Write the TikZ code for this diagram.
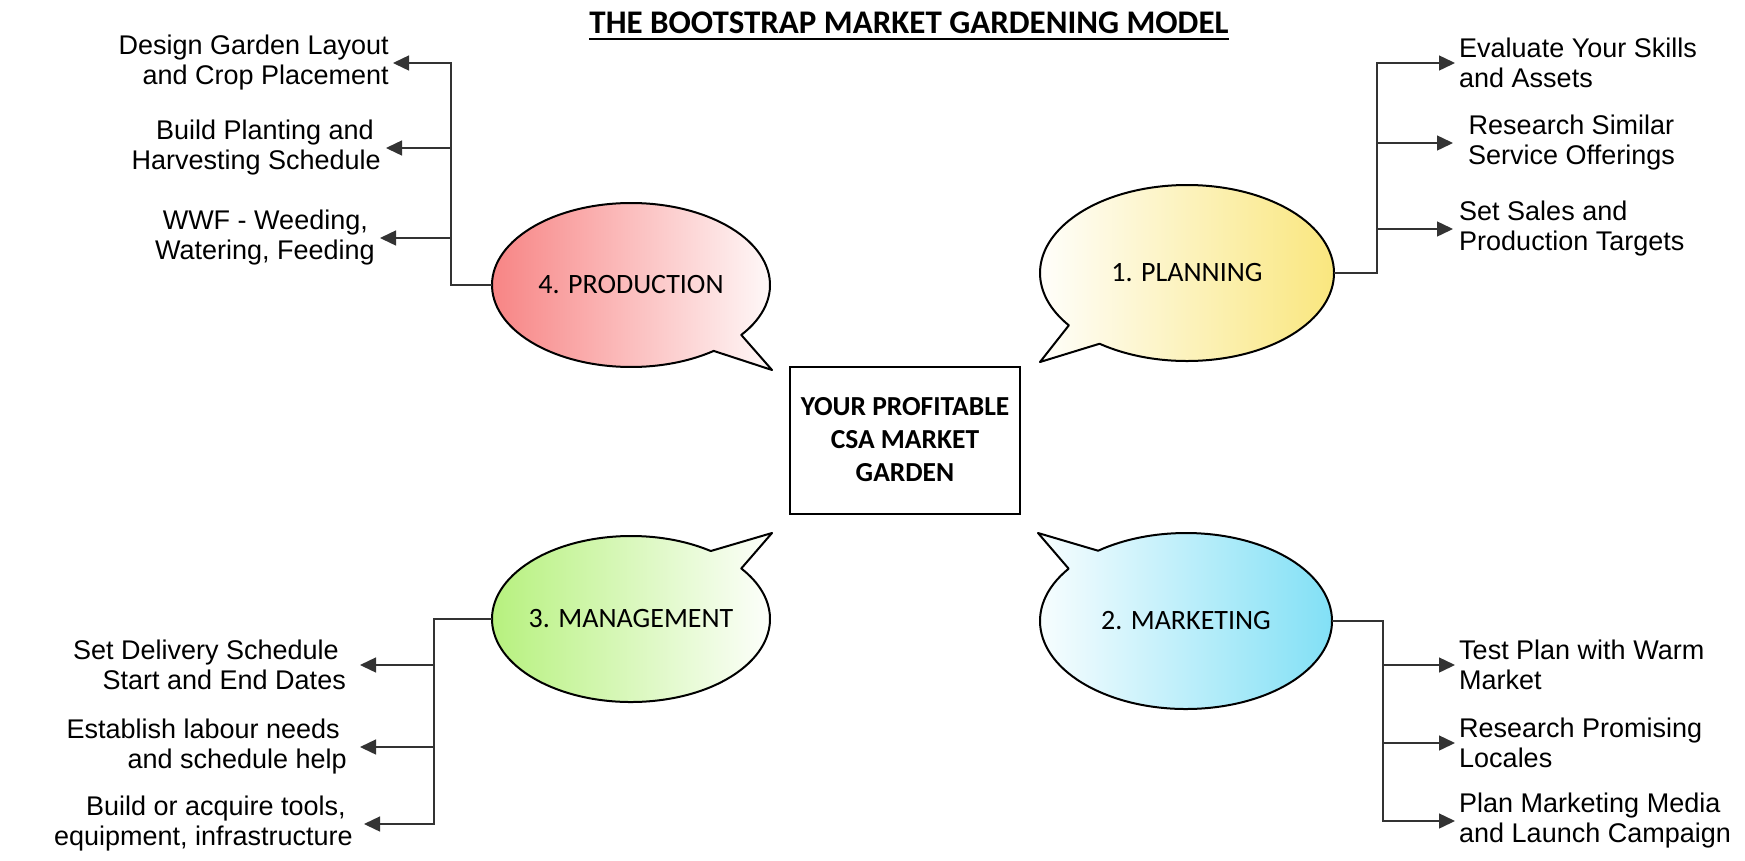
\documentclass[tikz,border=0pt]{standalone}
\usepackage{fontspec}
\setmainfont{Liberation Sans}
\newfontfamily\calfont{Carlito}
\usetikzlibrary{positioning, arrows.meta, backgrounds}
\definecolor{cProd}{RGB}{247,125,125}
\definecolor{cPlan}{RGB}{249,229,118}
\definecolor{cMan}{RGB}{178,240,118}
\definecolor{cMkt}{RGB}{122,222,245}

\begin{document}
\begin{tikzpicture}[x=1pt, y=1pt,
    bubble/.style={inner sep=0pt, minimum width=278pt, minimum height=164pt,
                   font=\calfont\fontsize{28}{32}\selectfont},
    outline/.style={draw=black, line width=2pt, line join=round},
    item/.style={inner sep=0pt, font=\fontsize{27}{30}\selectfont},
    link/.style={draw=black!80, line width=1.4pt},
    arr/.style={link, -{Triangle[length=16pt, width=15pt]}}]

    \useasboundingbox (0,0) rectangle (1745,-860);

    % Title and centre box
    \node[inner sep=0pt, anchor=base, font=\calfont\bfseries\fontsize{33}{40}\selectfont]
        (title) at (909,-33) {THE BOOTSTRAP MARKET GARDENING MODEL};
    \draw[line width=2pt] ([yshift=-6pt]title.base west) -- ([yshift=-6pt]title.base east);

    \node[draw, line width=2pt, minimum width=230pt, minimum height=147pt, align=center,
          font=\calfont\bfseries\fontsize{27.5}{33}\selectfont]
        (garden) at (905,-440) {YOUR PROFITABLE\\CSA MARKET\\GARDEN};

    % Bubble Placements
    \node[bubble] (prod) at (631,-285)  {4. PRODUCTION};
    \node[bubble, minimum width=294pt, minimum height=176pt] (plan) at (1187,-273) {1. PLANNING};
    \node[bubble] (man)  at (631,-619)  {3. MANAGEMENT};
    \node[bubble, minimum width=292pt, minimum height=176pt] (mkt)  at (1186,-621) {2. MARKETING};

    \begin{scope}[on background layer]
        \shadedraw[outline, left color=cProd, right color=white]
            (prod.center) ++(-37.5:139 and 82) arc[start angle=-37.5, end angle=306.5, x radius=139, y radius=82]
            -- (772,-370) -- cycle;
        \shadedraw[outline, left color=white, right color=cPlan]
            (plan.center) ++(233.5:147 and 88) arc[start angle=233.5, end angle=576.5, x radius=147, y radius=88]
            -- (1040,-362) -- cycle;
        \shadedraw[outline, left color=cMan, right color=white]
            (man.center) ++(55:139 and 83) arc[start angle=55, end angle=397.5, x radius=139, y radius=83]
            -- (772,-533) -- cycle;
        \shadedraw[outline, left color=white, right color=cMkt]
            (mkt.center) ++(143.5:146 and 88) arc[start angle=143.5, end angle=487, x radius=146, y radius=88]
            -- (1038,-533) -- cycle;
    \end{scope}

    % Item Placements
    \node[item, anchor=west, align=left]   (pl1) at (1459,-63)  {Evaluate Your Skills\\and Assets};
    \node[item, anchor=west, align=center] (pl2) at (1468,-143) {Research Similar\\Service Offerings};
    \node[item, anchor=west, align=left]   (pl3) at (1459,-229) {Set Sales and\\Production Targets};

    \node[item, anchor=west, align=left]   (mk1) at (1459,-665) {Test Plan with Warm\\Market};
    \node[item, anchor=west, align=left]   (mk2) at (1459,-743) {Research Promising\\Locales};
    \node[item, anchor=west, align=left]   (mk3) at (1459,-821) {Plan Marketing Media\\and Launch Campaign};

    \node[item, anchor=east, align=right]  (pr1) at (389,-63)  {Design Garden Layout\\and Crop Placement};
    \node[item, anchor=east, align=right]  (pr2) at (381,-148) {Build Planting and\kern7pt\\Harvesting Schedule};
    \node[item, anchor=east, align=right]  (pr3) at (375,-238) {WWF - Weeding,\kern7pt\\Watering, Feeding};

    \node[item, anchor=east, align=right]  (ma1) at (346,-665) {Set Delivery Schedule\kern7pt\\Start and End Dates};
    \node[item, anchor=east, align=right]  (ma2) at (347,-747) {Establish labour needs\kern7pt\\and schedule help};
    \node[item, anchor=east, align=right]  (ma3) at (353,-824) {Build or acquire tools,\kern7pt\\equipment, infrastructure};

    % Connector Operations
    \coordinate (plbus) at (1377,-273);
    \coordinate (mkbus) at (1383,-621);
    \coordinate (prbus) at (451,-285);
    \coordinate (mabus) at (434,-619);

    \draw[arr] (plan.east) -- (plbus) |- ([xshift=-4pt]pl1.west);
    \draw[arr] (plbus |- pl2.west) -- ([xshift=-15pt]pl2.west);
    \draw[arr] (plbus |- pl3.west) -- ([xshift=-6pt]pl3.west);

    \draw[arr] (mkt.east) -- (mkbus) |- ([xshift=-4pt]mk3.west);
    \draw[arr] (mkbus |- mk1.west) -- ([xshift=-4pt]mk1.west);
    \draw[arr] (mkbus |- mk2.west) -- ([xshift=-4pt]mk2.west);

    \draw[arr] (prod.west) -- (prbus) |- ([xshift=4pt]pr1.east);
    \draw[arr] (prbus |- pr2.east) -- ([xshift=5pt]pr2.east);
    \draw[arr] (prbus |- pr3.east) -- ([xshift=5pt]pr3.east);

    \draw[arr] (man.west) -- (mabus) |- ([xshift=11pt]ma3.east);
    \draw[arr] (mabus |- ma1.east) -- ([xshift=14pt]ma1.east);
    \draw[arr] (mabus |- ma2.east) -- ([xshift=13pt]ma2.east);
\end{tikzpicture}
\end{document}
